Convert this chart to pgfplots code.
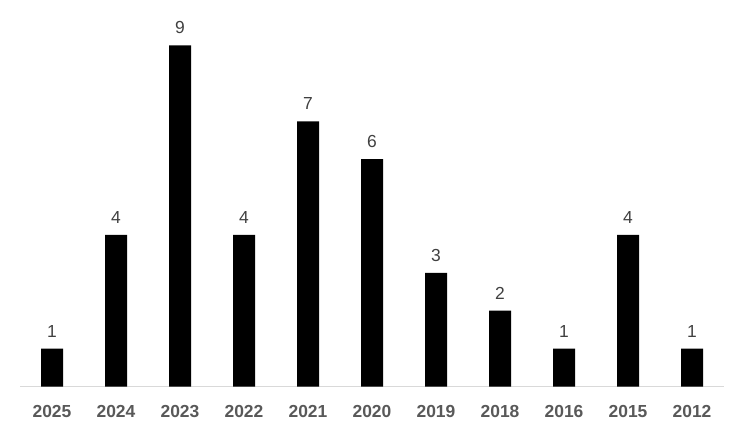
\documentclass[border=0pt]{standalone}
\usepackage{pgfplots}
\pgfplotsset{compat=1.18}
\usepackage{fontspec}
\setmainfont{Liberation Sans}
\definecolor{lblgray}{HTML}{595959}
\definecolor{valgray}{HTML}{404040}
\definecolor{axgray}{HTML}{D9D9D9}
\begin{document}
\begin{tikzpicture}
\begin{axis}[
	scale only axis,
	width=704bp,
	height=386.5bp,
	xmin=-0.5, xmax=10.5,
	ymin=0, ymax=10.2,
	axis y line=none,
	axis x line*=bottom,
	axis line style={axgray, line width=1.2bp},
	xtick=data,
	xticklabels={2025,2024,2023,2022,2021,2020,2019,2018,2016,2015,2012},
	major tick length=0pt,
	xticklabel style={font=\fontsize{17.5}{17.5}\selectfont\bfseries, text=lblgray, yshift=-15bp},
	ybar,
	bar width=22bp,
	nodes near coords,
	/pgf/number format/assume math mode=true,
	every node near coord/.append style={font=\fontsize{17.5}{17.5}\selectfont, text=valgray, yshift=8bp},
	clip=false,
]
\addplot[fill=black, draw=none] coordinates {
	(0,1) (1,4) (2,9) (3,4) (4,7) (5,6) (6,3) (7,2) (8,1) (9,4) (10,1)
};
\coordinate (bl) at (rel axis cs:0,0);
\coordinate (tr) at (rel axis cs:1,1);
\end{axis}
\pgfresetboundingbox
\useasboundingbox ([shift={(-20bp,-51.5bp)}]bl) rectangle ([shift={(21bp,0bp)}]tr);
\end{tikzpicture}
\end{document}
